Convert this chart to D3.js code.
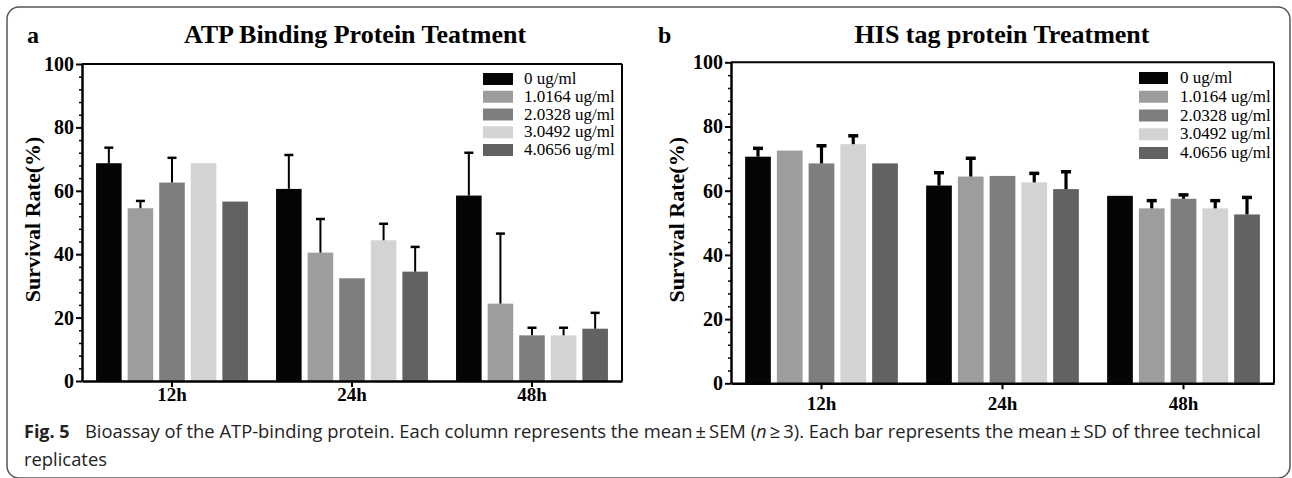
<!DOCTYPE html>
<html>
<head>
<meta charset="utf-8">
<script src="https://cdn.jsdelivr.net/npm/d3@7"></script>
<style>
  html, body { margin: 0; padding: 0; background: #fff; }
  svg { display: block; }
</style>
</head>
<body>
<svg id="chart" width="1292" height="478"></svg>
<script>
// ---------------- data ----------------
const categories = ["12h", "24h", "48h"];
const seriesNames = ["0 ug/ml", "1.0164 ug/ml", "2.0328 ug/ml", "3.0492 ug/ml", "4.0656 ug/ml"];
const seriesColors = ["#050505", "#9d9d9d", "#7e7e7e", "#d3d3d3", "#626262"];
const yTicks = [0, 20, 40, 60, 80, 100];

// Panel a: ATP Binding Protein Teatment (rows = categories, cols = series)
const atpMeans = [
  [68.7, 54.5, 62.6, 68.7, 56.6],
  [60.6, 40.5, 32.4, 44.4, 34.5],
  [58.5, 24.4, 14.4, 14.4, 16.5]
];
const atpErrors = [
  [4.9, 2.3, 7.8, 0, 0],
  [10.7, 10.6, 0, 5.2, 7.8],
  [13.5, 22.1, 2.4, 2.4, 5.0]
];

// Panel b: HIS tag protein Treatment
const hisMeans = [
  [70.6, 72.5, 68.5, 74.5, 68.5],
  [61.6, 64.4, 64.6, 62.6, 60.5],
  [58.4, 54.5, 57.5, 54.5, 52.6]
];
const hisErrors = [
  [2.6, 0, 5.5, 2.6, 0],
  [4.0, 5.7, 0, 2.8, 5.4],
  [0, 2.4, 1.2, 2.4, 5.3]
];

const titleA = "ATP Binding Protein Teatment";
const titleB = "HIS tag protein Treatment";
const yLabel = "Survival Rate(%)";

// ---------------- drawing ----------------
const svg = d3.select("#chart");
const SERIF = "'Liberation Serif', 'Times New Roman', serif";

// outer rounded frame
svg.append("rect")
  .attr("x", 7).attr("y", 7).attr("width", 1283).attr("height", 471)
  .attr("rx", 12).attr("ry", 12)
  .attr("fill", "none").attr("stroke", "#555").attr("stroke-width", 1.5);

function drawPanel(cfg) {
  const g = svg.append("g");
  const x0 = d3.scaleBand().domain(categories).range([cfg.left, cfg.right]).paddingInner(0).paddingOuter(0);
  const x1 = d3.scaleBand().domain(seriesNames).range([0, x0.bandwidth()]).paddingInner(0.19).paddingOuter(0.445);
  const y = d3.scaleLinear().domain([0, 100]).range([cfg.bottom, cfg.top]);

  // panel letter
  g.append("text").attr("x", cfg.letterX).attr("y", 43)
    .attr("font-family", SERIF).attr("font-weight", "bold").attr("font-size", 24)
    .text(cfg.letter);
  // title
  g.append("text").attr("x", cfg.titleX).attr("y", 43).attr("text-anchor", "middle")
    .attr("font-family", SERIF).attr("font-weight", "bold").attr("font-size", 26)
    .text(cfg.title);

  // bars
  const groups = g.selectAll("g.cat").data(categories).join("g")
    .attr("class", "cat")
    .attr("transform", d => `translate(${x0(d)},0)`);
  groups.each(function(cat, ci) {
    const gg = d3.select(this);
    const rows = seriesNames.map((s, si) => ({ s, si, v: cfg.means[ci][si], e: cfg.errors[ci][si] }));
    gg.selectAll("rect").data(rows).join("rect")
      .attr("x", d => x1(d.s))
      .attr("y", d => y(d.v))
      .attr("width", x1.bandwidth())
      .attr("height", d => y(0) - y(d.v))
      .attr("fill", d => seriesColors[d.si]);
    const errs = rows.filter(d => d.e > 0);
    gg.selectAll("line.err").data(errs).join("line")
      .attr("class", "err")
      .attr("x1", d => x1(d.s) + x1.bandwidth() / 2)
      .attr("x2", d => x1(d.s) + x1.bandwidth() / 2)
      .attr("y1", d => y(d.v))
      .attr("y2", d => y(d.v + d.e))
      .attr("stroke", "#000").attr("stroke-width", cfg.errW);
    gg.selectAll("line.cap").data(errs).join("line")
      .attr("class", "cap")
      .attr("x1", d => x1(d.s) + x1.bandwidth() / 2 - cfg.capW / 2)
      .attr("x2", d => x1(d.s) + x1.bandwidth() / 2 + cfg.capW / 2)
      .attr("y1", d => y(d.v + d.e))
      .attr("y2", d => y(d.v + d.e))
      .attr("stroke", "#000").attr("stroke-width", cfg.capH);
  });

  // top and right frame lines
  g.append("line").attr("x1", cfg.left).attr("x2", cfg.right).attr("y1", cfg.top).attr("y2", cfg.top)
    .attr("stroke", "#000").attr("stroke-width", 2);
  g.append("line").attr("x1", cfg.right).attr("x2", cfg.right).attr("y1", cfg.top).attr("y2", cfg.bottom)
    .attr("stroke", "#000").attr("stroke-width", 2);

  // minor y ticks
  const minor = d3.range(0, 101, 4).filter(v => v % 20 !== 0);
  const minorAxis = g.append("g").attr("transform", `translate(${cfg.left},0)`)
    .call(d3.axisLeft(y).tickValues(minor).tickSize(3).tickFormat(""));
  minorAxis.select(".domain").remove();
  minorAxis.selectAll("line").attr("stroke-width", 1.5);

  // y axis
  const yAxis = g.append("g").attr("transform", `translate(${cfg.left},0)`)
    .call(d3.axisLeft(y).tickValues(yTicks).tickSize(6).tickSizeOuter(0).tickPadding(2));
  yAxis.select(".domain").attr("stroke-width", 2.5);
  yAxis.selectAll(".tick line").attr("stroke-width", 2);
  yAxis.selectAll("text").attr("font-family", SERIF).attr("font-weight", "bold")
    .attr("font-size", 20).attr("fill", "#000");

  // x axis
  const xAxis = g.append("g").attr("transform", `translate(0,${cfg.bottom})`)
    .call(d3.axisBottom(x0).tickSize(6).tickSizeOuter(0).tickPadding(cfg.xPad));
  xAxis.select(".domain").attr("stroke-width", 2.5);
  xAxis.selectAll(".tick line").attr("stroke-width", 2);
  xAxis.selectAll("text").attr("font-family", SERIF).attr("font-weight", "bold")
    .attr("font-size", 19).attr("fill", "#000");

  // y label
  g.append("text")
    .attr("transform", `translate(${cfg.yLabelX},${(cfg.top + cfg.bottom) / 2 - 3}) rotate(-90)`)
    .attr("text-anchor", "middle").attr("dy", "0.35em")
    .attr("font-family", SERIF).attr("font-weight", "bold").attr("font-size", 22)
    .text(yLabel);

  // legend
  const leg = g.append("g");
  seriesNames.forEach((s, i) => {
    const cy = cfg.legY0 + i * cfg.legStep;
    leg.append("rect").attr("x", cfg.legX).attr("y", cy - 6).attr("width", cfg.legW).attr("height", 12)
      .attr("fill", seriesColors[i]);
    leg.append("text").attr("x", cfg.legTextX).attr("y", cy + 5)
      .attr("font-family", SERIF).attr("font-size", 17).attr("fill", "#000")
      .text(s);
  });
}

drawPanel({
  letter: "a", letterX: 27, title: titleA, titleX: 355,
  left: 82, right: 622, top: 64, bottom: 381, xPad: 1,
  means: atpMeans, errors: atpErrors, errW: 2, capW: 9, capH: 2.5,
  yLabelX: 32, legX: 483, legW: 30, legY0: 79, legStep: 17.75, legTextX: 524
});
drawPanel({
  letter: "b", letterX: 658, title: titleB, titleX: 1002,
  left: 731, right: 1274, top: 62.3, bottom: 383.3, xPad: 7,
  means: hisMeans, errors: hisErrors, errW: 3.2, capW: 10, capH: 3.5,
  yLabelX: 676, legX: 1139, legW: 29, legY0: 78, legStep: 18.75, legTextX: 1180
});

// caption
const SANS = "'Open Sans', 'Noto Sans', sans-serif";
const cap = svg.append("g").attr("font-family", SANS).attr("fill", "#222");
cap.append("text").attr("x", 24).attr("y", 438).attr("font-size", 18).attr("font-weight", "bold")
  .text("Fig. 5");
const rest = cap.append("text").attr("x", 85).attr("y", 438).attr("font-size", 18);
rest.append("tspan").text("Bioassay of the ATP-binding protein. Each column represents the mean\u2009\u00b1\u2009SEM (");
rest.append("tspan").attr("font-style", "italic").text("n");
rest.append("tspan").text("\u2009\u2265\u20093). Each bar represents the mean\u2009\u00b1\u2009SD of three technical");
const len = rest.node().getComputedTextLength();
const fs = 18 * (1262 - 85) / len;
rest.attr("font-size", fs);
cap.append("text").attr("x", 24).attr("y", 466).attr("font-size", fs).text("replicates");
</script>
</body>
</html>
